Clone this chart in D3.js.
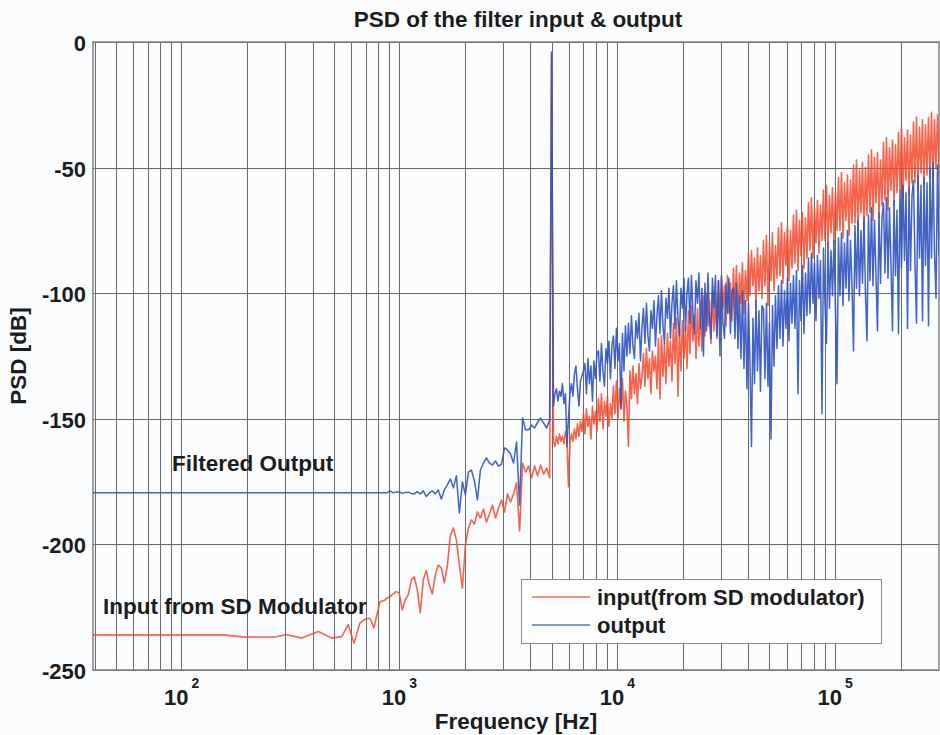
<!DOCTYPE html>
<html><head><meta charset="utf-8">
<script src="https://cdn.jsdelivr.net/npm/d3@7"></script>
<style>
body{margin:0;background:#fbfcfe}
text{font-family:"Liberation Sans",Arial,Helvetica,sans-serif;font-weight:bold;fill:#1c1c1c}
</style>
</head><body>
<svg id="c" width="940" height="735"></svg>
<script>
// ---------- data ----------
const titleText = "PSD of the filter input & output";
const xLabel = "Frequency [Hz]";
const yLabel = "PSD [dB]";
const yTicks = [0, -50, -100, -150, -200, -250];
const xLabelExponents = [2, 3, 4, 5];
const xDomainHz = [39.3, 300000];
const seriesNames = ["input(from SD modulator)", "output"];

// input (orange): low-frequency part, explicit frequencies
const inputLowHz = [39.3,155,196,274,302,357,425,490,544,583,620,660,696,734,765,815,860];
const inputLowDb = [-236.0,-236.0,-236.9,-236.8,-235.9,-237.3,-234.7,-237.3,-236.7,-232.0,-239.3,-231.3,-229.8,-229.4,-233.3,-222.8,-222.1];
// output (blue): flat low-frequency part
const outputLowHz = [39.3, 500];
const outputLowDb = [-179.4, -179.4];

// mid band 880 Hz .. 4.9 kHz (log-spaced samples)
const midBandHz = [880, 4900];
const inputMidDb = [-221.3,-220.8,-219.7,-218.8,-219.3,-226.1,-222.1,-220.1,-214.1,-212.9,
 -218.1,-227.3,-214.1,-210.5,-216.1,-219.7,-212.1,-208.2,-209.4,-215.3,
 -208.6,-196.3,-193.5,-198.2,-208.2,-217.4,-200.3,-193.5,-190.3,-191.9,
 -187.1,-189.5,-185.9,-191.1,-187.9,-184.3,-189.5,-185.5,-182.3,-187.1,
 -179.9,-183.1,-179.9,-175.5,-194.6,-167.6,-171.2,-168.8,-173.5,-168.8,
 -172.7,-168.4,-172.0,-169.6,-173.5];
const outputMidDb = [-179.4,-178.7,-179.5,-179.1,-179.1,-179.7,-179.3,-179.2,-179.7,-179.9,
 -179.0,-179.9,-178.7,-180.9,-179.5,-178.7,-179.9,-178.3,-181.9,-178.3,
 -176.3,-173.9,-177.5,-172.7,-187.5,-175.1,-180.3,-171.2,-170.4,-174.7,
 -182.3,-170.4,-167.6,-165.6,-167.6,-168.4,-166.8,-168.8,-168.0,-161.6,
 -162.4,-164.0,-167.6,-159.2,-184.3,-149.7,-154.4,-154.4,-152.5,-153.7,
 -151.3,-149.7,-151.7,-153.7,-150.5];

// test tone
const toneHz = 5000;
const inputToneDb = -5;
const outputToneDb = -4;

// high band 5.1 kHz .. 300 kHz (log-spaced samples)
const highBandHz = [5100, 300000];
const inputHighDb = [
 -159,-161,-157,-160,-156,-159,-157,-160,-155,-158,
 -177,-160,-156,-159,-154,-158,-152,-157,-151,-155,
 -148,-156,-146,-153,-149,-158,-145,-152,-147,-155,
 -142,-151,-140,-154,-143,-149,-141,-153,-144,-150,
 -137,-148,-135,-150,-138,-146,-134,-151,-139,-145,
 -161,-131,-142,-129,-140,-132,-144,-128,-138,-133,
 -124,-137,-122,-134,-126,-140,-123,-131,-125,-138,
 -118,-142,-117,-133,-120,-136,-116,-129,-119,-135,
 -112,-128,-110,-141,-114,-131,-111,-126,-113,-130,
 -107,-124,-105,-119,-109,-126,-106,-121,-108,-123,
 -101,-117,-100,-113,-103,-120,-99,-115,-102,-118,
 -95,-110,-94,-106,-97,-113,-93,-108,-96,-111,
 -90,-106,-89,-112,-92,-104,-88,-108,-91,-103,
 -84,-101,-83,-97,-86,-105,-82,-99,-85,-102,
 -79,-97,-77,-105,-80,-95,-76,-99,-81,-94,
 -74,-93,-72,-96,-76,-89,-73,-95,-75,-90,
 -69,-88,-67,-91,-71,-85,-68,-90,-70,-86,
 -64,-83,-62,-86,-66,-80,-63,-84,-65,-79,
 -59,-79,-57,-82,-61,-76,-58,-80,-60,-75,
 -54,-75,-52,-78,-56,-71,-53,-77,-55,-72,
 -49,-72,-47,-75,-51,-68,-48,-74,-50,-69,
 -45,-68,-43,-71,-46,-64,-44,-70,-47,-65,
 -40,-63,-38,-67,-42,-59,-39,-65,-41,-60,
 -36,-59,-34,-62,-38,-55,-35,-61,-37,-56,
 -32,-56,-30,-59,-34,-52,-31,-58,-33,-53,
 -30,-54,-28,-56,-31,-50,-29,-53];
const outputHighDb = [
 -145,-140,-138,-143,-139,-141,-136,-144,-140,-161,
 -150,-140,-136,-141,-132,-129,-138,-145,-135,-133,
 -131,-128,-140,-126,-136,-129,-143,-127,-134,-124,
 -123,-135,-120,-131,-137,-122,-128,-119,-134,-121,
 -117,-130,-114,-127,-120,-146,-116,-131,-113,-125,
 -112,-124,-109,-121,-126,-111,-118,-108,-127,-114,
 -106,-120,-104,-117,-123,-107,-114,-103,-121,-109,
 -101,-116,-99,-113,-120,-102,-110,-98,-118,-104,
 -97,-114,-95,-110,-117,-98,-106,-94,-115,-100,
 -94,-112,-93,-108,-116,-95,-104,-92,-114,-98,
 -125,-96,-115,-92,-110,-118,-94,-106,-93,-117,
 -95,-125,-93,-112,-118,-96,-108,-94,-116,-99,
 -98,-118,-96,-122,-101,-126,-99,-130,-103,-138,
 -104,-128,-161,-110,-136,-103,-131,-107,-139,-105,
 -106,-134,-104,-137,-112,-158,-105,-129,-101,-122,
 -97,-118,-95,-121,-99,-114,-94,-119,-96,-112,
 -93,-114,-91,-140,-95,-111,-89,-116,-92,-109,
 -86,-108,-84,-104,-88,-111,-85,-102,-87,-148,
 -82,-104,-120,-80,-106,-83,-101,-79,-107,-136,
 -78,-101,-76,-105,-80,-98,-75,-103,-79,-97,
 -123,-73,-98,-71,-101,-75,-96,-70,-100,-119,
 -69,-95,-66,-97,-71,-93,-115,-68,-96,-70,
 -64,-92,-62,-94,-66,-89,-115,-63,-93,-67,
 -116,-59,-90,-57,-87,-60,-114,-58,-91,-61,
 -55,-88,-112,-53,-86,-57,-111,-54,-89,-56,
 -113,-50,-86,-48,-84,-102,-49,-85];

// ---------- build series ----------
function logSpread(band, vals){
  const n = vals.length;
  return vals.map((v,i)=>[band[0]*Math.pow(band[1]/band[0], i/(n-1)), v]);
}
const inputSeries = inputLowHz.map((f,i)=>[f, inputLowDb[i]])
  .concat(logSpread(midBandHz, inputMidDb), [[toneHz, inputToneDb]], logSpread(highBandHz, inputHighDb));
const outputSeries = outputLowHz.map((f,i)=>[f, outputLowDb[i]])
  .concat(logSpread(midBandHz, outputMidDb), [[toneHz, outputToneDb]], logSpread(highBandHz, outputHighDb));

// ---------- drawing ----------
const svg = d3.select("#c");
const L = 93, R = 939, T = 42, B = 670;
const x = d3.scaleLog().domain(xDomainHz).range([L, R]);
const y = d3.scaleLinear().domain([-250, 0]).range([B, T]);

svg.append("rect").attr("x",0).attr("y",0).attr("width",940).attr("height",735).attr("fill","#fbfcfe");

svg.append("defs").append("clipPath").attr("id","clip")
  .append("rect").attr("x",L).attr("y",T).attr("width",R-L).attr("height",B-T);

// grid
const grid = svg.append("g").attr("stroke","#6a6a6a").attr("stroke-width",1);
x.ticks().filter(v => v > xDomainHz[0] && v < xDomainHz[1]).forEach(v=>{
  const px = Math.round(x(v)) + 0.5;
  grid.append("line").attr("x1",px).attr("x2",px).attr("y1",T).attr("y2",B);
});
yTicks.forEach(v=>{
  const py = Math.round(y(v)) + 0.5;
  grid.append("line").attr("x1",L).attr("x2",R).attr("y1",py).attr("y2",py);
});
// box
svg.append("rect").attr("x",L).attr("y",T).attr("width",R-L).attr("height",B-T)
  .attr("fill","none").attr("stroke","#808080").attr("stroke-width",1.5);

// lines
const line = d3.line().x(d=>x(d[0])).y(d=>y(d[1]));
const plot = svg.append("g").attr("clip-path","url(#clip)");
const colIn = "#f24a2c", colOut = "#2d52c0";
plot.append("path").datum(inputSeries).attr("d",line).attr("fill","none")
  .attr("stroke",colIn).attr("stroke-width",1.6).attr("stroke-linejoin","round").attr("stroke-opacity",0.85);
plot.append("path").datum(outputSeries).attr("d",line).attr("fill","none")
  .attr("stroke",colOut).attr("stroke-width",1.5).attr("stroke-linejoin","round").attr("stroke-opacity",0.9);

// y tick labels
svg.append("g").selectAll("text").data(yTicks).join("text")
  .attr("x",86).attr("y",d=>y(d)+9).attr("text-anchor","end")
  .style("font-size","22px").text(d=>d);

// x tick labels 10^n
const xt = svg.append("g");
xLabelExponents.forEach(e=>{
  const px = x(Math.pow(10,e));
  xt.append("text").attr("x",px+7).attr("y",705).attr("text-anchor","end").style("font-size","22px").text("10");
  xt.append("text").attr("x",px+10).attr("y",688).attr("text-anchor","start").style("font-size","14px").text(e);
});

// titles
svg.append("text").attr("x",518).attr("y",27).attr("text-anchor","middle").style("font-size","22.5px").text(titleText);
svg.append("text").attr("x",516).attr("y",729).attr("text-anchor","middle").style("font-size","22.5px").text(xLabel);
svg.append("text").attr("transform","translate(26,356) rotate(-90)").attr("text-anchor","middle").style("font-size","22.5px").text(yLabel);

// annotations
svg.append("text").attr("x",172).attr("y",471).style("font-size","22.5px").text("Filtered Output");
svg.append("text").attr("x",103).attr("y",614).style("font-size","22.5px").text("Input from SD Modulator");

// legend
const lg = svg.append("g");
lg.append("rect").attr("x",521.5).attr("y",579.5).attr("width",360).attr("height",64)
  .attr("fill","#fdfdfe").attr("stroke","#8a8a8a").attr("stroke-width",1);
[colIn, colOut].forEach((c,i)=>{
  const ly = 597 + i*28;
  lg.append("line").attr("x1",532).attr("x2",590).attr("y1",ly).attr("y2",ly)
    .attr("stroke",c).attr("stroke-width",1.5).attr("stroke-opacity",0.8);
  lg.append("text").attr("x",597).attr("y",ly+8).style("font-size","22px").text(seriesNames[i]);
});
</script>
</body></html>
